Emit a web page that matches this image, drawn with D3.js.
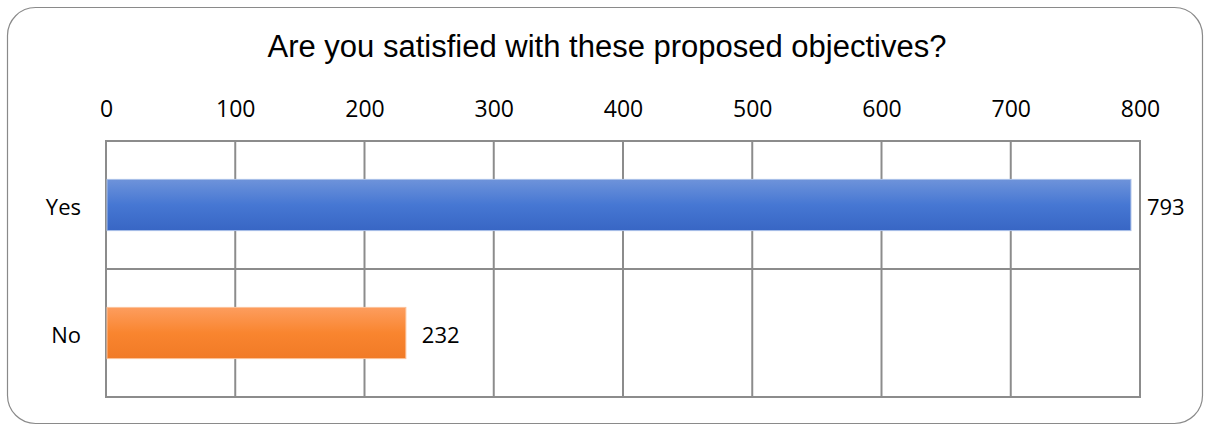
<!DOCTYPE html>
<html><head><meta charset="utf-8">
<script src="https://cdn.jsdelivr.net/npm/d3@7"></script>
<style>body{margin:0;background:#fff}svg{display:block}</style>
</head><body>
<script>
const categories = ["Yes", "No"];
const values = [793, 232];
const tickValues = [0, 100, 200, 300, 400, 500, 600, 700, 800];
const title = "Are you satisfied with these proposed objectives?";

(function () {
const W = 1205, H = 426;
const svg = d3.select("body").append("svg").attr("width", W).attr("height", H);
const defs = svg.append("defs");
const grads = [["gBlue", "#6e93da", "#4677d3", "#3866c4"], ["gOrange", "#fd9d5e", "#f9852f", "#f17a26"]];
grads.forEach(([id, a, b, c]) => {
  const g = defs.append("linearGradient").attr("id", id).attr("x1", 0).attr("y1", 0).attr("x2", 0).attr("y2", 1);
  g.append("stop").attr("offset", "0%").attr("stop-color", a);
  g.append("stop").attr("offset", "50%").attr("stop-color", b);
  g.append("stop").attr("offset", "100%").attr("stop-color", c);
});

svg.append("rect").attr("x", 7.5).attr("y", 7.5).attr("width", 1195).attr("height", 416)
  .attr("rx", 28).attr("fill", "#fff").attr("stroke", "#8a8a8a").attr("stroke-width", 1.2);

svg.append("text").attr("x", 607).attr("y", 57).attr("text-anchor", "middle")
  .attr("font-family", "'Liberation Sans', Arial, sans-serif").attr("font-size", 31).attr("fill", "#000").text(title);

const pl = 106, pr = 1140, pt = 141, pb = 397;
const x = d3.scaleLinear().domain([0, 800]).range([pl, pr]);
const y = d3.scaleBand().domain(categories).range([pt, pb]).paddingInner(0).paddingOuter(0);

const grid = svg.append("g");
grid.selectAll("line.v").data(tickValues).join("line")
  .attr("x1", d => x(d)).attr("x2", d => x(d)).attr("y1", pt).attr("y2", pb)
  .attr("stroke", "#8c8c8c").attr("stroke-width", 2);
const hs = [pt, ...categories.map(c => y(c) + y.bandwidth())];
grid.selectAll("line.h").data(hs).join("line")
  .attr("x1", pl - 1).attr("x2", pr + 1).attr("y1", d => d).attr("y2", d => d)
  .attr("stroke", "#8c8c8c").attr("stroke-width", 2);

const barH = y.bandwidth() * 0.4;
svg.selectAll("rect.bar").data(values).join("rect")
  .attr("x", x(0) + 1).attr("y", (d, i) => y(categories[i]) + (y.bandwidth() - barH) / 2)
  .attr("width", d => x(d) - x(0) - 1).attr("height", barH)
  .attr("fill", (d, i) => i === 0 ? "url(#gBlue)" : "url(#gOrange)")
  .attr("stroke", (d, i) => i === 0 ? "#a9bfe8" : "#fcc29a").attr("stroke-width", 1);

const font = "'Open Sans', sans-serif";
const axis = d3.axisTop(x).tickValues(tickValues).tickSize(0).tickPadding(0);
const ag = svg.append("g").attr("transform", `translate(0,117)`).call(axis);
ag.select(".domain").remove();
ag.attr("font-family", null).attr("font-size", null);
ag.selectAll("text").attr("font-family", font).attr("font-size", 23).attr("fill", "#000").attr("dy", 0);

svg.selectAll("text.cat").data(categories).join("text")
  .attr("x", 81).attr("y", d => y(d) + y.bandwidth() / 2 + 9.5)
  .attr("text-anchor", "end").attr("font-family", font).attr("font-size", 22).text(d => d);

svg.selectAll("text.val").data(values).join("text")
  .attr("x", d => x(d) + 16).attr("y", (d, i) => y(categories[i]) + y.bandwidth() / 2 + 9.5)
  .attr("font-family", font).attr("font-size", 22).text(d => d);
})();
</script>
</body></html>
